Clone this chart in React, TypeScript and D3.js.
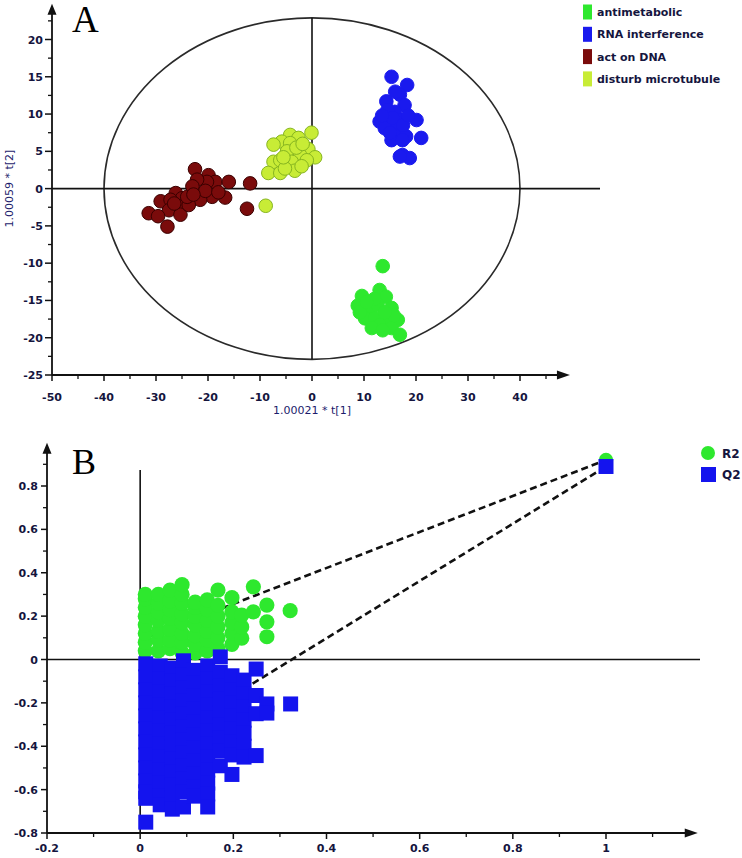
import React from 'react';
import * as d3 from 'd3';

// ---------- Panel A data ----------
const aSeriesNames = ['antimetabolic', 'RNA interference', 'act on DNA', 'disturb microtubule'];
const aFill = ['#2ee82e', '#1a1aee', '#7a0b0b', '#c8ec36'];
const aStroke = ['#2ee82e', '#1a1aee', '#3a0000', '#86b520'];

const antimetabolic: [number, number][] = [
  [13.6, -10.4], [9.6, -14.4], [13.0, -13.6], [14.2, -14.5], [8.8, -15.7], [11.1, -16.0],
  [12.6, -15.6], [15.3, -16.0], [10.2, -17.4], [12.1, -17.4], [14.4, -17.6], [16.5, -17.6],
  [13.0, -18.3], [15.3, -18.7], [16.9, -19.6], [11.5, -18.7], [13.6, -19.0], [9.2, -16.6],
  [15.7, -17.0], [14.0, -16.6], [12.0, -14.8], [10.5, -15.2],
];
const rnaInterference: [number, number][] = [
  [15.3, 15.0], [18.3, 13.9], [16.9, 12.6], [14.3, 11.7], [17.8, 11.2], [15.9, 10.3],
  [20.1, 9.2], [13.0, 9.0], [14.9, 8.8], [16.9, 9.2], [14.0, 8.1], [16.2, 7.9],
  [18.1, 7.0], [21.0, 6.8], [15.3, 6.5], [17.4, 6.5], [17.4, 4.5], [18.8, 4.1],
  [16.9, 4.3], [14.5, 10.5], [15.5, 9.5], [17.5, 8.5], [13.5, 9.8], [16.0, 13.0],
  [18.5, 9.8], [15.0, 7.5],
];
const actOnDNA: [number, number][] = [
  [-22.5, 2.6], [-19.9, 1.8], [-18.6, 0.9], [-20.2, 0.9], [-16.0, 0.9], [-11.9, 0.7],
  [-22.1, 1.2], [-26.2, -0.6], [-22.1, -0.6], [-19.2, -1.1], [-16.7, -1.2], [-25.0, -1.3],
  [-21.5, -1.5], [-29.1, -1.7], [-27.2, -1.5], [-27.5, -2.9], [-25.3, -2.4], [-31.4, -3.3],
  [-29.6, -3.7], [-25.3, -3.5], [-12.5, -2.7], [-27.8, -5.1], [-23.7, -2.2], [-24.0, -1.1],
  [-23.0, 0.3], [-20.5, -0.3], [-18.0, -0.5], [-26.5, -2.0], [-22.8, -0.8],
];
const disturbMicrotubule: [number, number][] = [
  [-0.1, 7.5], [-4.2, 7.2], [-2.6, 6.8], [-5.8, 6.3], [-7.4, 5.9], [-4.2, 6.1],
  [-0.7, 5.3], [-4.8, 5.0], [-2.3, 4.5], [0.6, 4.2], [-7.4, 3.6], [-6.1, 3.8],
  [-3.9, 3.6], [-1.0, 3.8], [-8.4, 2.1], [-6.1, 2.1], [-3.3, 2.4], [-5.2, 2.7],
  [-8.9, -2.3], [-3.0, 5.5], [-5.5, 4.2], [-1.8, 6.0], [-2.0, 3.0],
];
const aSeries = [antimetabolic, rnaInterference, actOnDNA, disturbMicrotubule];

const aXTicks = [-50, -40, -30, -20, -10, 0, 10, 20, 30, 40];
const aYTicks = [20, 15, 10, 5, 0, -5, -10, -15, -20, -25];

// ---------- Panel B data ----------
const r2X = [0.011, 0.039, 0.064, 0.09, 0.118, 0.144, 0.167, 0.197, 0.218, 0.243, 0.272, 0.322];
const r2Y = [
  [0.04, 0.08, 0.12, 0.16, 0.2, 0.24, 0.28, 0.3],
  [0.04, 0.09, 0.13, 0.18, 0.22, 0.26, 0.3],
  [0.05, 0.09, 0.14, 0.19, 0.23, 0.27, 0.32],
  [0.03, 0.08, 0.12, 0.17, 0.21, 0.26, 0.3, 0.345],
  [0.03, 0.07, 0.11, 0.16, 0.2, 0.24, 0.265],
  [0.04, 0.09, 0.13, 0.18, 0.23, 0.275],
  [0.05, 0.1, 0.15, 0.2, 0.25, 0.32],
  [0.07, 0.12, 0.17, 0.22, 0.285],
  [0.098, 0.15, 0.205],
  [0.22, 0.335],
  [0.105, 0.174, 0.251],
  [0.225],
];
const q2X = [0.012, 0.043, 0.069, 0.093, 0.116, 0.145, 0.172, 0.197, 0.223, 0.249, 0.272, 0.323];
const q2Y = [
  [-0.02, -0.08, -0.14, -0.2, -0.26, -0.32, -0.38, -0.44, -0.5, -0.56, -0.61, -0.64, -0.75],
  [-0.03, -0.09, -0.15, -0.21, -0.27, -0.33, -0.39, -0.45, -0.51, -0.57, -0.63, -0.67],
  [-0.04, -0.1, -0.16, -0.22, -0.28, -0.34, -0.4, -0.46, -0.52, -0.58, -0.64, -0.69],
  [-0.006, -0.07, -0.13, -0.19, -0.25, -0.31, -0.37, -0.43, -0.49, -0.55, -0.61, -0.68],
  [-0.05, -0.11, -0.17, -0.23, -0.29, -0.35, -0.41, -0.47, -0.53, -0.59, -0.63],
  [-0.03, -0.09, -0.15, -0.21, -0.27, -0.33, -0.39, -0.45, -0.51, -0.57, -0.62, -0.68],
  [0.012, -0.06, -0.12, -0.18, -0.24, -0.3, -0.36, -0.42, -0.49],
  [-0.075, -0.14, -0.2, -0.26, -0.32, -0.38, -0.44, -0.53],
  [-0.095, -0.16, -0.22, -0.28, -0.34, -0.4, -0.45],
  [-0.044, -0.166, -0.25, -0.443],
  [-0.205, -0.247],
  [-0.205],
];
const r2Original: [number, number] = [1, 0.92];
const q2Original: [number, number] = [1, 0.89];
const r2Intercept = 0.09;
const q2Intercept = -0.43;

const bXTicks = [-0.2, 0, 0.2, 0.4, 0.6, 0.8, 1];
const bYTicks = [0.8, 0.6, 0.4, 0.2, 0, -0.2, -0.4, -0.6, -0.8];

const TICK_FONT = "'DejaVu Sans', sans-serif";
const LABEL_COLOR = '#15153e';
const AXIS = '#111';

function fmtB(v: number) {
  if (Math.abs(v) < 1e-9) return '0';
  return String(Math.round(v * 10) / 10);
}

export default function App() {
  // Panel A scales
  const ax = d3.scaleLinear().domain([-50, 40]).range([52, 520]);
  const ay = d3.scaleLinear().domain([-25, 20]).range([375, 39.5]);
  const aXMax = 49.6;
  const aYMax = 24.8;
  const aMinorX = d3.range(-45, 46, 10);
  const aMinorY = d3.range(-22.5, 23, 5);

  // Panel B scales
  const bx = d3.scaleLinear().domain([-0.2, 1]).range([47, 606]);
  const by = d3.scaleLinear().domain([-0.8, 0.8]).range([833, 486]);
  const bXMax = 1.197;
  const bYMax = 1.0;
  const bMinorX = d3.range(-0.1, 1.15, 0.2);
  const bMinorY = d3.range(-0.7, 0.95, 0.2);

  const r2Points: [number, number][] = r2X.flatMap((x, i) => r2Y[i].map((y) => [x, y] as [number, number]));
  const q2Points: [number, number][] = q2X.flatMap((x, i) => q2Y[i].map((y) => [x, y] as [number, number]));

  const line = d3.line<[number, number]>().x((d) => bx(d[0])).y((d) => by(d[1]));

  const ex0 = ax(0), ey0 = ay(0);
  const erx = ax(40) - ax(0);
  const ery = ay(0) - ay(22.9);

  const sq = 15;

  return (
    <svg width={742} height={858} style={{ position: 'absolute', left: 0, top: 0, background: '#fff' }}
      fontFamily={TICK_FONT}>
      <rect x={0} y={0} width={742} height={858} fill="#fff" />

      {/* ================= Panel A ================= */}
      <text x={72} y={32} fontFamily="'Liberation Serif', 'Times New Roman', serif" fontSize={37} fill="#000">A</text>

      {/* ellipse */}
      <ellipse cx={ex0} cy={ey0} rx={erx} ry={ery} fill="none" stroke="#2a2a2a" strokeWidth={1.6} />
      {/* zero lines */}
      <line x1={ax(0)} x2={ax(0)} y1={ay(22.9)} y2={ay(-22.9)} stroke={AXIS} strokeWidth={1.6} />
      <line x1={ax(-50)} x2={600} y1={ay(0)} y2={ay(0)} stroke={AXIS} strokeWidth={1.6} />

      {/* axes */}
      <line x1={ax(-50)} x2={ax(-50)} y1={ay(-25)} y2={ay(aYMax) + 8} stroke={AXIS} strokeWidth={1.8} />
      <path d={`M${ax(-50) - 4.5},${ay(aYMax) + 11} L${ax(-50)},${ay(aYMax)} L${ax(-50) + 4.5},${ay(aYMax) + 11} Z`} fill={AXIS} />
      <line x1={ax(-50)} x2={ax(aXMax) - 8} y1={ay(-25)} y2={ay(-25)} stroke={AXIS} strokeWidth={1.8} />
      <path d={`M${ax(aXMax) - 13},${ay(-25) - 4.5} L${ax(aXMax)},${ay(-25)} L${ax(aXMax) - 13},${ay(-25) + 4.5} Z`} fill={AXIS} />

      {aYTicks.map((t) => (
        <g key={'ayt' + t}>
          <line x1={ax(-50) - 7} x2={ax(-50)} y1={ay(t)} y2={ay(t)} stroke={AXIS} strokeWidth={1.5} />
          <text x={43} y={ay(t) + 4} textAnchor="end" fontSize={11} fontWeight="bold" fill={LABEL_COLOR}>{t}</text>
        </g>
      ))}
      {aMinorY.map((t) => (
        <line key={'aym' + t} x1={ax(-50) - 4} x2={ax(-50)} y1={ay(t)} y2={ay(t)} stroke={AXIS} strokeWidth={1.3} />
      ))}
      {aXTicks.map((t) => (
        <g key={'axt' + t}>
          <line x1={ax(t)} x2={ax(t)} y1={ay(-25)} y2={ay(-25) + 6} stroke={AXIS} strokeWidth={1.5} />
          <text x={ax(t)} y={401} textAnchor="middle" fontSize={11} fontWeight="bold" fill={LABEL_COLOR}>{t}</text>
        </g>
      ))}
      {aMinorX.map((t) => (
        <line key={'axm' + t} x1={ax(t)} x2={ax(t)} y1={ay(-25) - 1} y2={ay(-25) + 4} stroke={AXIS} strokeWidth={1.3} />
      ))}

      <text x={ax(0)} y={414} textAnchor="middle" fontSize={11} fill="#1c1c6c">1.00021 * t[1]</text>
      <text transform={`translate(13, ${ay(0)}) rotate(-90)`} textAnchor="middle" fontSize={11} fill="#1c1c6c">1.00059 * t[2]</text>

      {/* points */}
      {aSeries.map((s, si) => (
        <g key={'as' + si}>
          {s.map((d, i) => (
            <circle key={i} cx={ax(d[0])} cy={ay(d[1])} r={6.8} fill={aFill[si]} stroke={aStroke[si]} strokeWidth={1} />
          ))}
        </g>
      ))}

      {/* legend A */}
      {aSeriesNames.map((n, i) => {
        const cy = 12 + 22.3 * i;
        return (
          <g key={'al' + n}>
            <rect x={583} y={cy - 7.5} width={9} height={15} fill={aFill[i]} />
            <text x={597} y={cy + 4} fontSize={11} fontWeight="bold" fill={LABEL_COLOR}>{n}</text>
          </g>
        );
      })}

      {/* ================= Panel B ================= */}
      <text x={72} y={474} fontFamily="'Liberation Serif', 'Times New Roman', serif" fontSize={36} fill="#000">B</text>

      <line x1={bx(0)} x2={bx(0)} y1={470} y2={by(-0.8)} stroke={AXIS} strokeWidth={1.6} />
      <line x1={bx(-0.2)} x2={700} y1={by(0)} y2={by(0)} stroke={AXIS} strokeWidth={1.6} />

      <line x1={bx(-0.2)} x2={bx(-0.2)} y1={by(-0.8)} y2={by(bYMax) + 8} stroke={AXIS} strokeWidth={1.8} />
      <path d={`M${bx(-0.2) - 4.5},${by(bYMax) + 11} L${bx(-0.2)},${by(bYMax)} L${bx(-0.2) + 4.5},${by(bYMax) + 11} Z`} fill={AXIS} />
      <line x1={bx(-0.2)} x2={bx(bXMax) - 8} y1={by(-0.8)} y2={by(-0.8)} stroke={AXIS} strokeWidth={1.8} />
      <path d={`M${bx(bXMax) - 13},${by(-0.8) - 4.5} L${bx(bXMax)},${by(-0.8)} L${bx(bXMax) - 13},${by(-0.8) + 4.5} Z`} fill={AXIS} />

      {bYTicks.map((t) => (
        <g key={'byt' + t}>
          <line x1={bx(-0.2) - 6} x2={bx(-0.2)} y1={by(t)} y2={by(t)} stroke={AXIS} strokeWidth={1.5} />
          <text x={38} y={by(t) + 4} textAnchor="end" fontSize={11} fontWeight="bold" fill={LABEL_COLOR}>{fmtB(t)}</text>
        </g>
      ))}
      {bMinorY.map((t) => (
        <line key={'bym' + t} x1={bx(-0.2) - 4} x2={bx(-0.2)} y1={by(t)} y2={by(t)} stroke={AXIS} strokeWidth={1.3} />
      ))}
      {bXTicks.map((t) => (
        <g key={'bxt' + t}>
          <line x1={bx(t)} x2={bx(t)} y1={by(-0.8)} y2={by(-0.8) + 6} stroke={AXIS} strokeWidth={1.5} />
          <text x={bx(t)} y={852} textAnchor="middle" fontSize={11} fontWeight="bold" fill={LABEL_COLOR}>{fmtB(t)}</text>
        </g>
      ))}
      {bMinorX.map((t) => (
        <line key={'bxm' + t} x1={bx(t)} x2={bx(t)} y1={by(-0.8) - 1} y2={by(-0.8) + 4} stroke={AXIS} strokeWidth={1.3} />
      ))}

      {/* regression dashed lines */}
      <path d={line([[0, r2Intercept], r2Original]) || ''} stroke="#111" strokeWidth={2.6} strokeDasharray="7,4" fill="none" />
      <path d={line([[0, q2Intercept], q2Original]) || ''} stroke="#111" strokeWidth={2.6} strokeDasharray="7,4" fill="none" />

      {/* R2 circles */}
      {r2Points.map((d, i) => (
        <circle key={'r2' + i} cx={bx(d[0])} cy={by(d[1])} r={7.6} fill="#2ee82e" />
      ))}
      {/* Q2 squares */}
      {q2Points.map((d, i) => (
        <rect key={'q2' + i} x={bx(d[0]) - sq / 2} y={by(d[1]) - sq / 2} width={sq} height={sq} fill="#1414ee" />
      ))}
      <circle cx={bx(r2Original[0])} cy={by(r2Original[1])} r={7.2} fill="#2ee82e" />
      <rect x={bx(q2Original[0]) - sq / 2} y={by(q2Original[1]) - sq / 2} width={sq} height={sq} fill="#1414ee" />

      {/* legend B */}
      <circle cx={708} cy={453} r={7} fill="#2ee82e" />
      <text x={722} y={457.5} fontSize={12} fontWeight="bold" fill={LABEL_COLOR}>R2</text>
      <rect x={701} y={467} width={15} height={15} fill="#1414ee" />
      <text x={722} y={479} fontSize={12} fontWeight="bold" fill={LABEL_COLOR}>Q2</text>
    </svg>
  );
}
